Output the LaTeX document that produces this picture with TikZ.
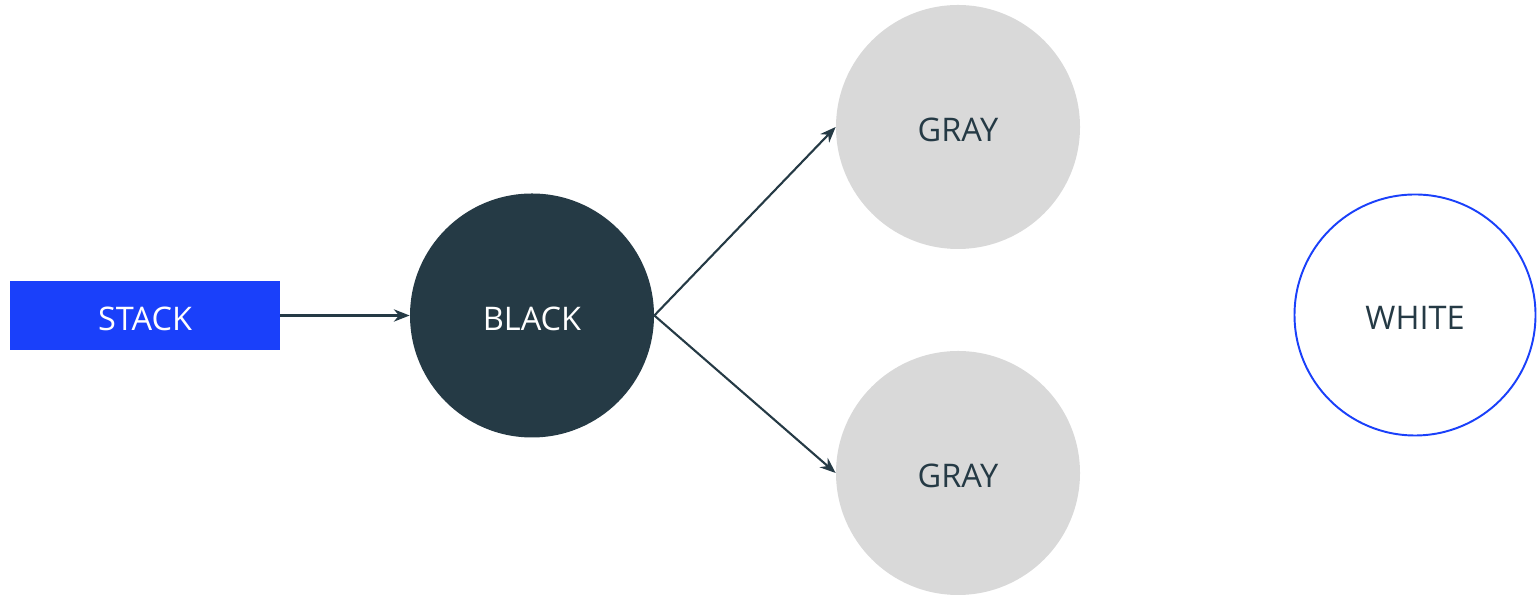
\documentclass[tikz,border=0pt]{standalone}
\usepackage{fontspec}
\setmainfont{Open Sans}
\usepackage{tikz}
\usetikzlibrary{arrows.meta,positioning}
\usepackage{xcolor}
\definecolor{stBlue}{HTML}{1A40FA}
\definecolor{stDark}{HTML}{253A45}
\definecolor{stGray}{HTML}{D9D9D9}
\tikzset{
    colorcircle/.style={circle, minimum size=4.88cm, inner sep=0pt, text height=0.585cm, text depth=0pt, font=\fontsize{18.5}{22}\selectfont},
    link/.style={draw=stDark, -{Stealth[length=9pt,width=7pt]}, line width=1.2pt}
}

\begin{document}
\begin{tikzpicture}[
    stackbox/.style={rectangle, fill=stBlue, text=white, minimum width=5.4cm, minimum height=1.38cm, inner sep=0pt, text height=0.585cm, text depth=0pt, font=\fontsize{18.5}{22}\selectfont},
    blacknode/.style={colorcircle, fill=stDark, text=white},
    graynode/.style={colorcircle, fill=stGray, text=stDark},
    whitenode/.style={colorcircle, minimum size=4.82cm, draw=stBlue, line width=1.1pt, fill=white, text=stDark}
]
    \useasboundingbox (0,0) rectangle (30.74,11.96);

    % Stack and the node it feeds
    \node[stackbox] (stack) at (2.9,5.65) {STACK};
    \node[blacknode] (black) at (10.64,5.65) {BLACK};

    % Gray successors
    \node[graynode] (grayup) at (19.16,9.42) {GRAY};
    \node[graynode] (graydown) at (19.16,2.5) {GRAY};

    % Unvisited
    \node[whitenode] (white) at (28.3,5.66) {WHITE};

    % Connections
    \draw[link] (stack) -- (black);
    \draw[link] (black.east) -- (grayup.west);
    \draw[link] (black.east) -- (graydown.west);

\end{tikzpicture}
\end{document}
